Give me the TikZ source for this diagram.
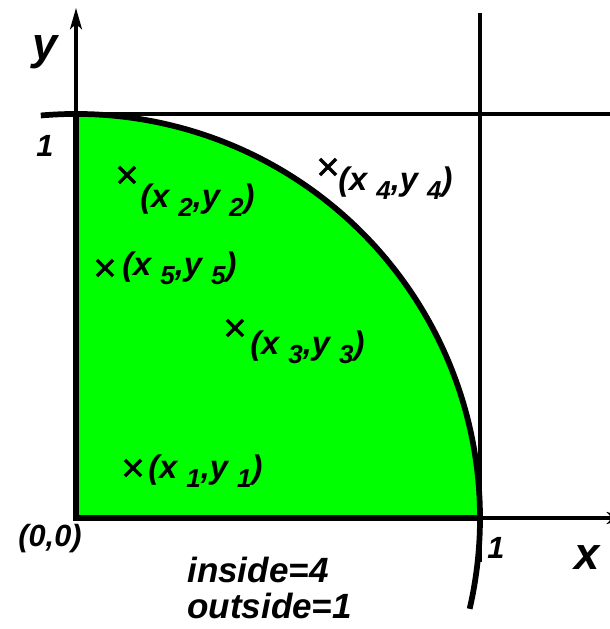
\documentclass[tikz,border=0pt]{standalone}
\usepackage{fontspec}
\setmainfont{Liberation Sans}
\usetikzlibrary{arrows.meta,shapes.misc}
\newcommand\lsub[1]{\raisebox{-6.5pt}{\fontsize{19.5}{19.5}\selectfont #1}}
\begin{document}
\begin{tikzpicture}[x=0.75pt,y=0.75pt,
  lbl/.style={font=\fontsize{24.5}{26}\selectfont\bfseries\itshape, inner sep=0pt, anchor=base west},
  axlbl/.style={font=\fontsize{34}{36}\selectfont\bfseries\itshape, inner sep=0pt, anchor=base},
  num/.style={font=\fontsize{23}{25}\selectfont\bfseries\itshape, inner sep=0pt, anchor=base},
  count/.style={font=\fontsize{26.3}{28}\selectfont\bfseries\itshape, inner sep=0pt, anchor=base west},
  thinline/.style={line width=2.3pt},
  thickline/.style={line width=4.3pt},
  xmark/.style={cross out, draw, line width=2.6pt, minimum size=9.5pt, inner sep=0pt},
  axarrow/.style={-{Stealth[length=16pt,width=9pt,inset=4pt]}}
]
\useasboundingbox (0,0) rectangle (610,629);
\coordinate (O) at (76,111);
\coordinate (T) at (76,515);
\coordinate (R) at (480,111);
\coordinate (A0) at (40.8,513.5);
\coordinate (ytip) at (76,621);
\coordinate (xtip) at (628,111);
\coordinate (h1) at (76,515);
\coordinate (h2) at (612,515);
\coordinate (v1) at (480,616);
\coordinate (v2) at (480,67);
% green region
\fill[green] (O) -- (T) arc[start angle=90,end angle=0,radius=404] -- cycle;
% thin lines
\draw[thinline,axarrow] (O) -- (ytip);
\draw[thinline,axarrow] (O) -- (xtip);
\draw[thinline] (h1) -- (h2);
\draw[thinline] (v1) -- (v2);
% thick boundary
\draw[thickline] (T) -- (O) -- (R);
\draw[thickline] (A0) arc[start angle=95,end angle=-13,radius=404];
% sample points
\node[xmark] (m1) at (133,161) {};
\node[xmark] (m2) at (127,454) {};
\node[xmark] (m3) at (235,301) {};
\node[xmark] (m4) at (328,462) {};
\node[xmark] (m5) at (105,361) {};
\node[lbl] (p1) at (148,150) {(x \lsub{1},y \lsub{1})};
\node[lbl] (p2) at (140,421) {(x \lsub{2},y \lsub{2})};
\node[lbl] (p3) at (250,274) {(x \lsub{3},y \lsub{3})};
\node[lbl] (p4) at (338,438) {(x \lsub{4},y \lsub{4})};
\node[lbl] (p5) at (122,353) {(x \lsub{5},y \lsub{5})};
% axis labels
\node[axlbl] (ylab) at (45,569) {y};
\node[axlbl] (xlab) at (587,60) {x};
\node[num] (oney) at (45,472) {1};
\node[num] (onex) at (496,70) {1};
\node[num] (orig) at (50,82) {(0,0)};
\node[count] (ins) at (187,46) {inside=4};
\node[count] (outs) at (187,11) {outside=1};
\end{tikzpicture}
\end{document}
